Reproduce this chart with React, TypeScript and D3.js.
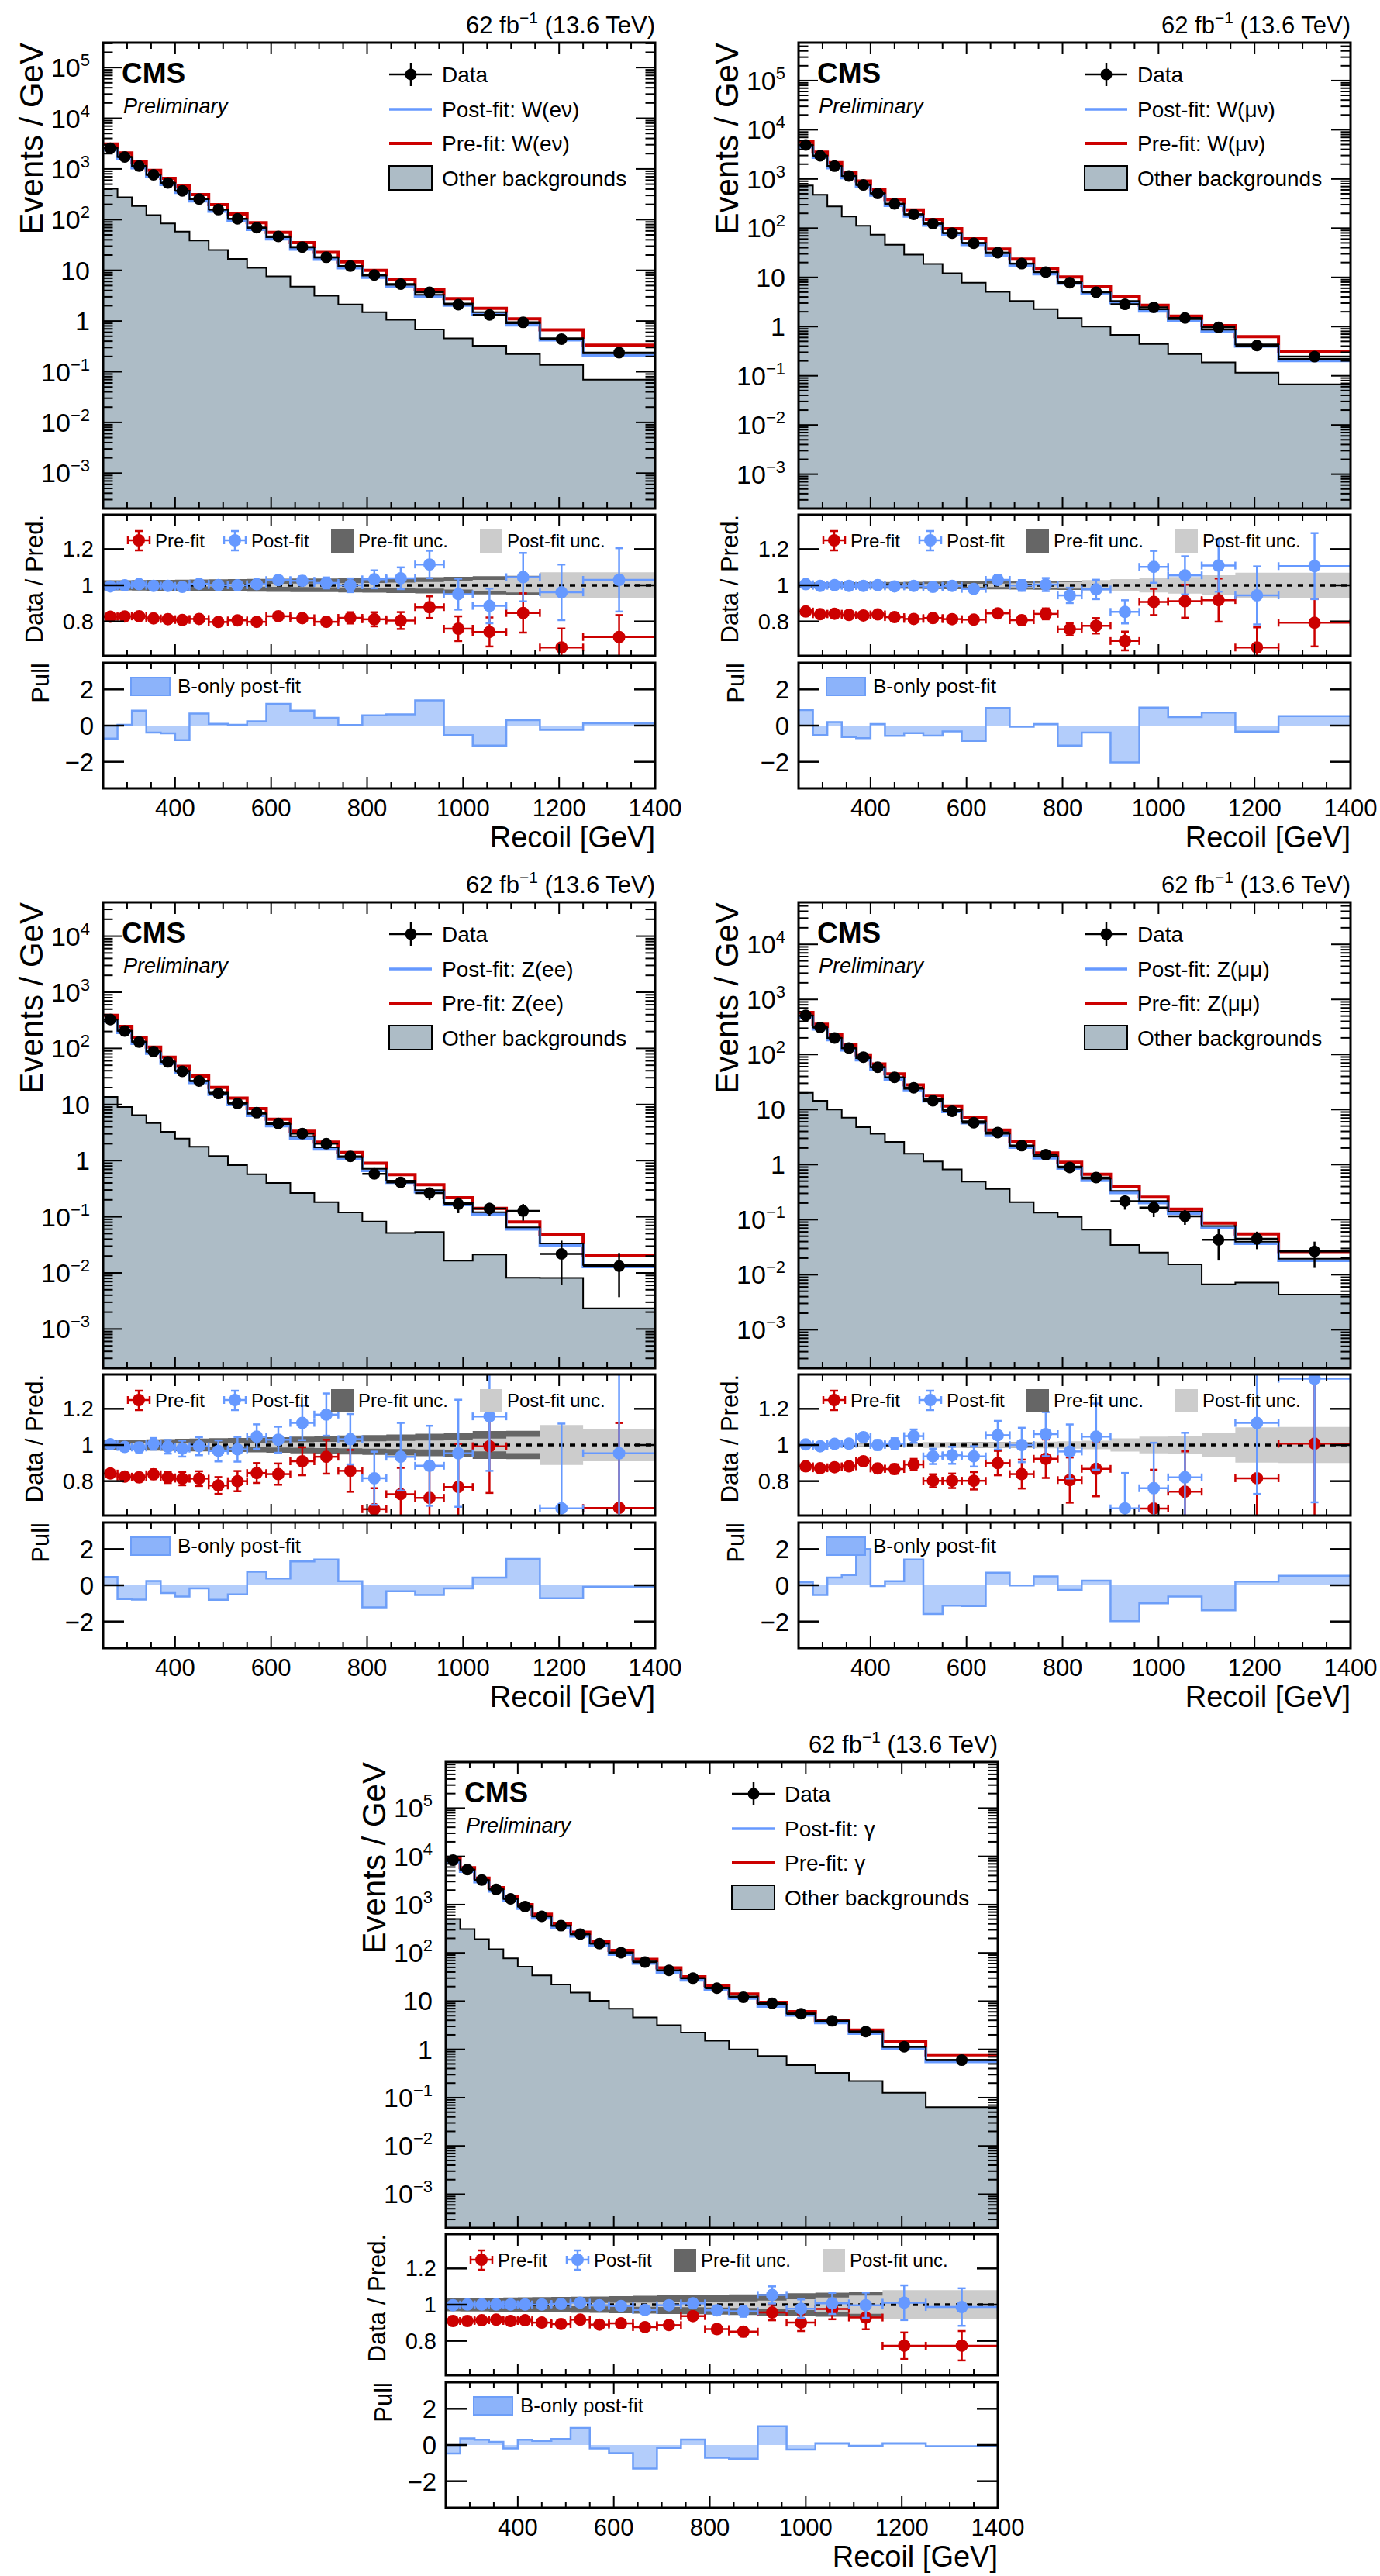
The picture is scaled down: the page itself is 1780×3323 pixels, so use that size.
import React from "react";
import * as d3 from "d3";

// Recoil binning shared by every region
const binEdges = [250, 280, 310, 340, 370, 400, 430, 470, 510, 550, 590, 640, 690, 740, 790, 840, 900, 960, 1020, 1090, 1160, 1250, 1400];

// W(e nu) control region
const wenData = [2560, 1720, 1140, 765, 530, 370, 255, 158, 104, 69.5, 46.5, 28.8, 18.1, 12.1, 8.1, 5.35, 3.68, 2.1, 1.32, 0.94, 0.44, 0.238];
const wenOther = [405, 275, 185, 123, 84, 58, 38.8, 25.2, 16.8, 11.2, 7.6, 4.75, 3.15, 2.12, 1.49, 1.06, 0.68, 0.455, 0.325, 0.222, 0.136, 0.07];
const wenRatioPost = [0.994, 1.0, 1.006, 0.997, 0.997, 0.991, 1.008, 1.001, 1.0, 1.006, 1.029, 1.025, 1.013, 1.0, 1.033, 1.039, 1.115, 0.951, 0.886, 1.045, 0.961, 1.03];
const wenRatioPre = [0.826, 0.828, 0.829, 0.817, 0.813, 0.808, 0.814, 0.797, 0.806, 0.798, 0.829, 0.818, 0.798, 0.82, 0.812, 0.805, 0.879, 0.76, 0.742, 0.847, 0.656, 0.714];
const wenRelErr = [0.004, 0.005, 0.006, 0.007, 0.008, 0.009, 0.011, 0.013, 0.015, 0.017, 0.02, 0.024, 0.03, 0.038, 0.048, 0.058, 0.068, 0.09, 0.108, 0.128, 0.16, 0.17];
const wenPreUnc = [0.028, 0.028, 0.029, 0.03, 0.03, 0.031, 0.032, 0.033, 0.034, 0.035, 0.036, 0.037, 0.038, 0.04, 0.041, 0.043, 0.045, 0.047, 0.05, 0.052, 0.055, 0.06];
const wenPostUnc = [0.004, 0.004, 0.004, 0.005, 0.005, 0.005, 0.006, 0.006, 0.007, 0.008, 0.009, 0.01, 0.011, 0.012, 0.013, 0.015, 0.018, 0.024, 0.03, 0.04, 0.072, 0.072];
const wenPull = [-0.72, 0.04, 0.83, -0.39, -0.43, -0.8, 0.66, 0.1, 0.04, 0.24, 1.2, 0.83, 0.43, 0.03, 0.57, 0.62, 1.39, -0.53, -1.1, 0.3, -0.24, 0.13];

// W(mu nu) control region
const wmnData = [4900, 2960, 1820, 1150, 755, 508, 312, 191, 123, 79.5, 49.5, 31.8, 19, 12.8, 7.75, 5.0, 2.83, 2.46, 1.49, 0.96, 0.41, 0.244];
const wmnOther = [740, 478, 276, 172, 112, 73.5, 46, 29, 18.7, 12.1, 7.75, 5.07, 3.32, 2.27, 1.49, 1.0, 0.676, 0.443, 0.277, 0.187, 0.115, 0.067];
const wmnRatioPost = [1.006, 0.997, 1.001, 0.997, 0.997, 1.001, 0.994, 0.997, 0.991, 0.997, 0.98, 1.03, 0.999, 1.004, 0.944, 0.977, 0.853, 1.102, 1.055, 1.109, 0.944, 1.106];
const wmnRatioPre = [0.855, 0.84, 0.843, 0.836, 0.833, 0.839, 0.824, 0.814, 0.819, 0.813, 0.81, 0.845, 0.807, 0.842, 0.757, 0.776, 0.692, 0.908, 0.912, 0.918, 0.656, 0.793];
const wmnRelErr = [0.003, 0.004, 0.005, 0.006, 0.007, 0.008, 0.01, 0.012, 0.014, 0.016, 0.02, 0.024, 0.03, 0.036, 0.045, 0.055, 0.075, 0.08, 0.1, 0.13, 0.17, 0.165];
const wmnPreUnc = [0.016, 0.016, 0.016, 0.017, 0.017, 0.018, 0.018, 0.019, 0.02, 0.021, 0.022, 0.023, 0.024, 0.025, 0.026, 0.027, 0.028, 0.03, 0.032, 0.034, 0.036, 0.04];
const wmnPostUnc = [0.004, 0.004, 0.004, 0.005, 0.005, 0.005, 0.006, 0.006, 0.007, 0.008, 0.009, 0.01, 0.012, 0.014, 0.018, 0.024, 0.034, 0.04, 0.046, 0.056, 0.07, 0.07];
const wmnPull = [0.86, -0.53, 0.19, -0.63, -0.7, 0.09, -0.57, -0.42, -0.56, -0.32, -0.85, 0.97, -0.06, 0.09, -1.1, -0.39, -2.04, 1.0, 0.47, 0.72, -0.33, 0.52];

// Z(ee) control region
const zeeData = [327, 204, 130, 88, 57.4, 39, 26.2, 15.7, 10.4, 7.15, 4.6, 3.04, 2.01, 1.19, 0.581, 0.411, 0.264, 0.168, 0.14, 0.127, 0.0218, 0.0132];
const zeeOther = [13.7, 9.04, 6.49, 4.66, 3.26, 2.47, 1.77, 1.21, 0.831, 0.573, 0.4, 0.264, 0.182, 0.119, 0.0819, 0.0513, 0.0534, 0.0165, 0.0212, 0.0082, 0.0081, 0.00233];
const zeeRatioPost = [1.004, 0.989, 0.986, 1.006, 0.99, 0.98, 0.993, 0.967, 0.976, 1.046, 1.029, 1.122, 1.168, 1.032, 0.816, 0.935, 0.885, 0.954, 1.158, 1.96, 0.65, 0.954];
const zeeRatioPre = [0.842, 0.825, 0.821, 0.838, 0.821, 0.814, 0.814, 0.776, 0.8, 0.845, 0.839, 0.91, 0.935, 0.857, 0.645, 0.728, 0.708, 0.768, 0.993, 1.57, 0.445, 0.652];
const zeeRelErr = [0.018, 0.022, 0.027, 0.032, 0.038, 0.045, 0.05, 0.06, 0.07, 0.065, 0.07, 0.085, 0.1, 0.135, 0.18, 0.2, 0.25, 0.31, 0.26, 0.33, 0.72, 0.72];
const zeePreUnc = [0.027, 0.028, 0.03, 0.031, 0.032, 0.034, 0.035, 0.037, 0.039, 0.041, 0.043, 0.046, 0.049, 0.052, 0.055, 0.058, 0.062, 0.066, 0.077, 0.078, 0.08, 0.08];
const zeePostUnc = [0.008, 0.008, 0.009, 0.009, 0.01, 0.01, 0.011, 0.011, 0.012, 0.013, 0.014, 0.015, 0.017, 0.018, 0.02, 0.022, 0.025, 0.03, 0.035, 0.045, 0.11, 0.09];
const zeePull = [0.46, -0.76, -0.79, 0.24, -0.43, -0.62, -0.17, -0.8, -0.5, 0.75, 0.37, 1.32, 1.42, 0.23, -1.22, -0.33, -0.54, -0.17, 0.43, 1.46, -0.72, -0.09];

// Z(mu mu) control region
const zmmData = [513, 309, 200, 131, 89.6, 58.7, 38.5, 24.9, 14.4, 9.3, 5.76, 3.83, 2.21, 1.51, 0.887, 0.581, 0.217, 0.166, 0.115, 0.043, 0.0448, 0.0266];
const zmmOther = [20.1, 14.4, 9.98, 7.11, 4.8, 3.62, 2.58, 1.58, 1.14, 0.815, 0.491, 0.36, 0.208, 0.134, 0.112, 0.0656, 0.0348, 0.0252, 0.0154, 0.0067, 0.0072, 0.00434];
const zmmRatioPost = [1.003, 0.993, 1.006, 1.007, 1.043, 1.0, 1.007, 1.049, 0.937, 0.943, 0.937, 1.054, 1.0, 1.06, 0.964, 1.046, 0.65, 0.761, 0.821, 0.561, 1.122, 1.366];
const zmmRatioPre = [0.882, 0.871, 0.877, 0.882, 0.91, 0.87, 0.867, 0.892, 0.802, 0.802, 0.802, 0.9, 0.839, 0.924, 0.806, 0.868, 0.532, 0.649, 0.742, 0.495, 0.816, 1.007];
const zmmRelErr = [0.012, 0.015, 0.018, 0.021, 0.022, 0.027, 0.03, 0.035, 0.045, 0.05, 0.06, 0.075, 0.095, 0.115, 0.155, 0.175, 0.3, 0.33, 0.3, 0.58, 0.35, 0.5];
const zmmPreUnc = [0.012, 0.012, 0.012, 0.012, 0.012, 0.013, 0.013, 0.013, 0.014, 0.014, 0.015, 0.015, 0.016, 0.016, 0.017, 0.018, 0.019, 0.02, 0.021, 0.022, 0.024, 0.026];
const zmmPostUnc = [0.006, 0.006, 0.006, 0.007, 0.007, 0.008, 0.009, 0.01, 0.011, 0.012, 0.013, 0.015, 0.016, 0.018, 0.02, 0.024, 0.036, 0.046, 0.048, 0.069, 0.098, 0.1];
const zmmPull = [0.17, -0.54, 0.43, 0.57, 2.0, -0.04, 0.23, 1.42, -1.58, -1.12, -1.15, 0.7, -0.01, 0.49, -0.26, 0.26, -1.98, -1.0, -0.62, -1.38, 0.2, 0.53];

// photon control region
const gamData = [8340, 5320, 3236, 2065, 1318, 912, 573, 366, 245, 156, 101, 64.6, 43.3, 29.9, 18.5, 12, 9.0, 5.47, 3.91, 2.34, 1.14, 0.598];
const gamOther = [504, 311, 192, 119, 77.1, 51.6, 34, 22.1, 15, 10.2, 6.97, 4.58, 3.17, 2.23, 1.52, 1.0, 0.726, 0.471, 0.326, 0.222, 0.126, 0.0634];
const gamRatioPost = [0.997, 1.001, 1.001, 1.001, 1.001, 1.001, 1.001, 1.004, 1.011, 0.997, 0.993, 0.971, 0.997, 1.007, 0.969, 0.964, 1.054, 0.978, 1.007, 0.997, 1.011, 0.987];
const gamRatioPre = [0.91, 0.91, 0.914, 0.917, 0.91, 0.914, 0.901, 0.893, 0.917, 0.89, 0.897, 0.876, 0.887, 0.937, 0.865, 0.851, 0.957, 0.901, 0.976, 0.929, 0.773, 0.773];
const gamRelErr = [0.003, 0.004, 0.005, 0.006, 0.007, 0.008, 0.009, 0.01, 0.012, 0.014, 0.016, 0.018, 0.02, 0.023, 0.027, 0.032, 0.045, 0.052, 0.058, 0.07, 0.095, 0.105];
const gamPreUnc = [0.036, 0.037, 0.038, 0.039, 0.04, 0.041, 0.042, 0.043, 0.044, 0.045, 0.047, 0.049, 0.051, 0.053, 0.055, 0.057, 0.06, 0.063, 0.066, 0.07, 0.072, 0.074];
const gamPostUnc = [0.006, 0.006, 0.006, 0.007, 0.007, 0.007, 0.008, 0.008, 0.009, 0.01, 0.011, 0.012, 0.013, 0.014, 0.016, 0.018, 0.022, 0.03, 0.04, 0.05, 0.08, 0.08];
const gamPull = [-0.47, 0.36, 0.29, 0.17, -0.19, 0.29, 0.22, 0.33, 0.94, -0.19, -0.45, -1.31, -0.16, 0.3, -0.71, -0.76, 1.04, -0.26, 0.1, -0.04, 0.1, -0.07];

const xTicksMajor = [400, 600, 800, 1000, 1200, 1400];
const ratioTicks = [0.8, 1, 1.2];
const ratioTickLabels = ["0.8", "1", "1.2"];
const pullTicks = [-2, 0, 2];
const pullTickLabels = ["\u22122", "0", "2"];

const FONT = "'Liberation Sans', Arial, Helvetica, sans-serif";
const FL = 133;
const FR = 845;
const MAIN_T = 55;
const MAIN_B = 656;
const RAT_T = 664;
const RAT_B = 846;
const PULL_T = 855;
const PULL_B = 1017;
const Y_MIN = 2e-4;

const RED = "#cc0000";
const BLUE = "#6699ff";
const OTHER_FILL = "#adbcc6";
const PRE_UNC = "#666666";
const POST_UNC = "#cccccc";
const PULL_FILL = "#b3cdfb";
const PULL_LINE = "#6d9ef8";
const PULL_LEG = "#8cb3fa";

interface Region {
    id: string;
    ox: number;
    oy: number;
    proc: string;
    yMax: number;
    data: number[];
    other: number[];
    ratioPost: number[];
    ratioPre: number[];
    relErr: number[];
    preUnc: number[];
    postUnc: number[];
    pull: number[];
}

const regions: Region[] = [
    { id: "wen", ox: 0, oy: 0, proc: "W(e\u03bd)", yMax: 3.1e5, data: wenData, other: wenOther, ratioPost: wenRatioPost, ratioPre: wenRatioPre, relErr: wenRelErr, preUnc: wenPreUnc, postUnc: wenPostUnc, pull: wenPull },
    { id: "wmn", ox: 897, oy: 0, proc: "W(\u03bc\u03bd)", yMax: 5.9e5, data: wmnData, other: wmnOther, ratioPost: wmnRatioPost, ratioPre: wmnRatioPre, relErr: wmnRelErr, preUnc: wmnPreUnc, postUnc: wmnPostUnc, pull: wmnPull },
    { id: "zee", ox: 0, oy: 1109, proc: "Z(ee)", yMax: 4.0e4, data: zeeData, other: zeeOther, ratioPost: zeeRatioPost, ratioPre: zeeRatioPre, relErr: zeeRelErr, preUnc: zeePreUnc, postUnc: zeePostUnc, pull: zeePull },
    { id: "zmm", ox: 897, oy: 1109, proc: "Z(\u03bc\u03bc)", yMax: 5.8e4, data: zmmData, other: zmmOther, ratioPost: zmmRatioPost, ratioPre: zmmRatioPre, relErr: zmmRelErr, preUnc: zmmPreUnc, postUnc: zmmPostUnc, pull: zmmPull },
    { id: "gam", ox: 442, oy: 2218, proc: "\u03b3", yMax: 9.0e5, data: gamData, other: gamOther, ratioPost: gamRatioPost, ratioPre: gamRatioPre, relErr: gamRelErr, preUnc: gamPreUnc, postUnc: gamPostUnc, pull: gamPull },
];

type Pt = [number, number];

const stepPts = (vals: number[]): Pt[] =>
    vals.flatMap((v, i) => [[binEdges[i], v], [binEdges[i + 1], v]] as Pt[]);

function ErrPoint(props: { x0: number; x1: number; xc: number; y: number; yLo: number; yHi: number; color: string; r: number }) {
    const { x0, x1, xc, y, yLo, yHi, color, r } = props;
    const cap = 5;
    return <g stroke={color} strokeWidth={2.5}>
        <line x1={x0} x2={x1} y1={y} y2={y} />
        <line x1={x0} x2={x0} y1={y - cap} y2={y + cap} />
        <line x1={x1} x2={x1} y1={y - cap} y2={y + cap} />
        <line x1={xc} x2={xc} y1={yLo} y2={yHi} />
        <line x1={xc - cap} x2={xc + cap} y1={yLo} y2={yLo} />
        <line x1={xc - cap} x2={xc + cap} y1={yHi} y2={yHi} />
        <circle cx={xc} cy={y} r={r} fill={color} stroke="none" />
    </g>;
}

function XTicks(props: { x: d3.ScaleLinear<number, number>; top: number; bottom: number }) {
    const { x, top, bottom } = props;
    const minors = d3.range(300, 1400, 50).filter(v => !xTicksMajor.includes(v));
    return <g stroke="black" strokeWidth={2}>
        {xTicksMajor.map(v => <g key={"M" + v}>
            <line x1={x(v)} x2={x(v)} y1={bottom} y2={bottom - 15} />
            <line x1={x(v)} x2={x(v)} y1={top} y2={top + 15} />
        </g>)}
        {minors.map(v => <g key={"m" + v}>
            <line x1={x(v)} x2={x(v)} y1={bottom} y2={bottom - 8} />
            <line x1={x(v)} x2={x(v)} y1={top} y2={top + 8} />
        </g>)}
    </g>;
}

function Panel({ r }: { r: Region }) {
    const x = d3.scaleLinear().domain([250, 1400]).range([FL, FR]);
    const yMain = d3.scaleLog().domain([Y_MIN, r.yMax]).range([MAIN_B, MAIN_T]);
    const yRat = d3.scaleLinear().domain([0.61, 1.39]).range([RAT_B, RAT_T]);
    const yPull = d3.scaleLinear().domain([-3.47, 3.47]).range([PULL_B, PULL_T]);

    const bins = binEdges.slice(0, -1).map((lo, i) => ({ lo, hi: binEdges[i + 1], c: (lo + binEdges[i + 1]) / 2 }));
    const postTot = r.data.map((d, i) => d / r.ratioPost[i]);
    const preTot = r.data.map((d, i) => d / r.ratioPre[i]);

    const mainLine = d3.line<Pt>().x(d => x(d[0])).y(d => yMain(d[1]));
    const otherArea = d3.area<Pt>().x(d => x(d[0])).y0(MAIN_B).y1(d => yMain(d[1]));
    const bandArea = (unc: number[]) => d3.area<Pt>()
        .x(d => x(d[0]))
        .y0(d => yRat(1 - unc[Math.min(d[1], unc.length - 1)]))
        .y1(d => yRat(1 + unc[Math.min(d[1], unc.length - 1)]))(
            bins.flatMap((b, i) => [[b.lo, i], [b.hi, i]] as Pt[]));
    const pullArea = d3.area<Pt>().x(d => x(d[0])).y0(yPull(0)).y1(d => yPull(d[1]));
    const pullLine = d3.line<Pt>().x(d => x(d[0])).y(d => yPull(d[1]));

    const decades = d3.range(-4, 7).filter(k => Math.pow(10, k) >= Y_MIN && Math.pow(10, k) <= r.yMax);
    const minorsY = d3.range(-4, 7).flatMap(k => d3.range(2, 10).map(j => j * Math.pow(10, k)))
        .filter(v => v > Y_MIN && v < r.yMax);

    const inRat = (v: number) => v >= 0.61 && v <= 1.39;

    return <g transform={`translate(${r.ox},${r.oy})`} fontFamily={FONT}>
        <defs>
            <clipPath id={`cm-${r.id}`}><rect x={FL} y={MAIN_T} width={FR - FL} height={MAIN_B - MAIN_T} /></clipPath>
            <clipPath id={`cr-${r.id}`}><rect x={FL} y={RAT_T} width={FR - FL} height={RAT_B - RAT_T} /></clipPath>
            <clipPath id={`cp-${r.id}`}><rect x={FL} y={PULL_T} width={FR - FL} height={PULL_B - PULL_T} /></clipPath>
        </defs>

        <text x={FR} y={43} textAnchor="end" fontSize={31}>
            62 fb<tspan dy={-13} fontSize={21}>{"\u22121"}</tspan><tspan dy={13} fontSize={31}>{"\u00a0(13.6 TeV)"}</tspan>
        </text>

        {/* main panel */}
        <g clipPath={`url(#cm-${r.id})`}>
            <path d={otherArea(stepPts(r.other)) ?? ""} fill={OTHER_FILL} />
            <path d={mainLine(stepPts(r.other)) ?? ""} fill="none" stroke="black" strokeWidth={2} />
            <path d={mainLine(stepPts(preTot)) ?? ""} fill="none" stroke={RED} strokeWidth={4} />
            <path d={mainLine(stepPts(postTot)) ?? ""} fill="none" stroke={BLUE} strokeWidth={3.5} transform="translate(0,2.5)" />
            <path d={mainLine(stepPts(postTot)) ?? ""} fill="none" stroke="black" strokeWidth={2} />
            {bins.map((b, i) => {
                const d = r.data[i];
                const lo = Math.max(d * (1 - r.relErr[i]), Y_MIN);
                const hi = d * (1 + r.relErr[i]);
                return <g key={i} stroke="black" strokeWidth={2.5}>
                    <line x1={x(b.lo)} x2={x(b.hi)} y1={yMain(d)} y2={yMain(d)} />
                    <line x1={x(b.c)} x2={x(b.c)} y1={yMain(lo)} y2={yMain(hi)} />
                    <circle cx={x(b.c)} cy={yMain(d)} r={7.5} fill="black" stroke="none" />
                </g>;
            })}
        </g>
        <XTicks x={x} top={MAIN_T} bottom={MAIN_B} />
        <g stroke="black" strokeWidth={2}>
            {decades.map(k => <g key={"d" + k}>
                <line x1={FL} x2={FL + 25} y1={yMain(Math.pow(10, k))} y2={yMain(Math.pow(10, k))} />
                <line x1={FR} x2={FR - 25} y1={yMain(Math.pow(10, k))} y2={yMain(Math.pow(10, k))} />
            </g>)}
            {minorsY.map((v, i) => <g key={"n" + i}>
                <line x1={FL} x2={FL + 12.5} y1={yMain(v)} y2={yMain(v)} />
                <line x1={FR} x2={FR - 12.5} y1={yMain(v)} y2={yMain(v)} />
            </g>)}
        </g>
        {decades.map(k => <text key={"t" + k} x={116} y={yMain(Math.pow(10, k)) + 12} textAnchor="end" fontSize={34}>
            {k === 0 ? "1" : k === 1 ? "10" : <>10<tspan dy={-14} fontSize={22}>{k < 0 ? "\u2212" + (-k) : String(k)}</tspan></>}
        </text>)}
        <rect x={FL} y={MAIN_T} width={FR - FL} height={MAIN_B - MAIN_T} fill="none" stroke="black" strokeWidth={3} />
        <text transform={`translate(55,${MAIN_T}) rotate(-90)`} textAnchor="end" fontSize={42}>Events / GeV</text>

        <text x={157} y={107} fontSize={37} fontWeight="bold">CMS</text>
        <text x={159} y={146} fontSize={27} fontStyle="italic">Preliminary</text>

        {/* main legend */}
        <g fontSize={28}>
            <line x1={502} x2={557} y1={96} y2={96} stroke="black" strokeWidth={2.5} />
            <line x1={530} x2={530} y1={81} y2={111} stroke="black" strokeWidth={2.5} />
            <circle cx={530} cy={96} r={7.5} fill="black" />
            <text x={570} y={96} dominantBaseline="central">Data</text>
            <line x1={502} x2={557} y1={141} y2={141} stroke={BLUE} strokeWidth={3.5} />
            <text x={570} y={141} dominantBaseline="central">{"Post-fit: " + r.proc}</text>
            <line x1={502} x2={557} y1={185} y2={185} stroke={RED} strokeWidth={4} />
            <text x={570} y={185} dominantBaseline="central">{"Pre-fit: " + r.proc}</text>
            <rect x={502} y={214} width={55} height={31} fill={OTHER_FILL} stroke="black" strokeWidth={2} />
            <text x={570} y={230} dominantBaseline="central">Other backgrounds</text>
        </g>

        {/* ratio panel */}
        <g clipPath={`url(#cr-${r.id})`}>
            <path d={bandArea(r.preUnc) ?? ""} fill={PRE_UNC} />
            <path d={bandArea(r.postUnc) ?? ""} fill={POST_UNC} />
            <line x1={FL} x2={FR} y1={yRat(1)} y2={yRat(1)} stroke="black" strokeWidth={3.5} strokeDasharray="7 7" />
            {bins.map((b, i) => inRat(r.ratioPre[i]) ? <ErrPoint key={"p" + i} x0={x(b.lo)} x1={x(b.hi)} xc={x(b.c)}
                y={yRat(r.ratioPre[i])} yLo={yRat(r.ratioPre[i] * (1 - r.relErr[i]))} yHi={yRat(r.ratioPre[i] * (1 + r.relErr[i]))}
                color={RED} r={8} /> : null)}
            {bins.map((b, i) => inRat(r.ratioPost[i]) ? <ErrPoint key={"q" + i} x0={x(b.lo)} x1={x(b.hi)} xc={x(b.c)}
                y={yRat(r.ratioPost[i])} yLo={yRat(r.ratioPost[i] * (1 - r.relErr[i]))} yHi={yRat(r.ratioPost[i] * (1 + r.relErr[i]))}
                color={BLUE} r={8} /> : null)}
        </g>
        <XTicks x={x} top={RAT_T} bottom={RAT_B} />
        <g stroke="black" strokeWidth={2.5}>
            {ratioTicks.map(v => <g key={v}>
                <line x1={FL} x2={FL + 27} y1={yRat(v)} y2={yRat(v)} />
                <line x1={FR} x2={FR - 27} y1={yRat(v)} y2={yRat(v)} />
            </g>)}
        </g>
        {ratioTicks.map((v, i) => <text key={v} x={121} y={yRat(v) + 10} textAnchor="end" fontSize={29}>{ratioTickLabels[i]}</text>)}
        <rect x={FL} y={RAT_T} width={FR - FL} height={RAT_B - RAT_T} fill="none" stroke="black" strokeWidth={3} />
        <text transform={`translate(55,${RAT_T}) rotate(-90)`} textAnchor="end" fontSize={31}>Data / Pred.</text>

        <g fontSize={24}>
            <ErrPoint x0={165} x1={193} xc={179} y={697} yLo={685} yHi={710} color={RED} r={8} />
            <text x={200} y={697} dominantBaseline="central">Pre-fit</text>
            <ErrPoint x0={289} x1={317} xc={303} y={697} yLo={685} yHi={710} color={BLUE} r={8} />
            <text x={324} y={697} dominantBaseline="central">Post-fit</text>
            <rect x={427} y={683} width={29} height={30} fill={PRE_UNC} />
            <text x={462} y={697} dominantBaseline="central">Pre-fit unc.</text>
            <rect x={619} y={683} width={29} height={30} fill={POST_UNC} />
            <text x={654} y={697} dominantBaseline="central">Post-fit unc.</text>
        </g>

        {/* pull panel */}
        <g clipPath={`url(#cp-${r.id})`}>
            <path d={pullArea(stepPts(r.pull)) ?? ""} fill={PULL_FILL} />
            <path d={pullLine(stepPts(r.pull)) ?? ""} fill="none" stroke={PULL_LINE} strokeWidth={2.5} />
        </g>
        <XTicks x={x} top={PULL_T} bottom={PULL_B} />
        <g stroke="black" strokeWidth={2.5}>
            {pullTicks.map(v => <g key={v}>
                <line x1={FL} x2={FL + 27} y1={yPull(v)} y2={yPull(v)} />
                <line x1={FR} x2={FR - 27} y1={yPull(v)} y2={yPull(v)} />
            </g>)}
        </g>
        {pullTicks.map((v, i) => <text key={v} x={121} y={yPull(v) + 12} textAnchor="end" fontSize={33}>{pullTickLabels[i]}</text>)}
        <rect x={FL} y={PULL_T} width={FR - FL} height={PULL_B - PULL_T} fill="none" stroke="black" strokeWidth={3} />
        <text transform={`translate(63,${PULL_T}) rotate(-90)`} textAnchor="end" fontSize={31}>Pull</text>
        <rect x={169} y={874} width={50} height={23} fill={PULL_LEG} stroke={PULL_LINE} strokeWidth={2} />
        <text x={229} y={885} dominantBaseline="central" fontSize={26}>B-only post-fit</text>

        {xTicksMajor.map(v => <text key={v} x={x(v)} y={1053} textAnchor="middle" fontSize={31}>{v}</text>)}
        <text x={FR} y={1093} textAnchor="end" fontSize={38}>Recoil [GeV]</text>
    </g>;
}

export default function App() {
    return <svg width={1780} height={3323} style={{ position: "absolute", left: 0, top: 0, background: "white" }}>
        <rect width={1780} height={3323} fill="white" />
        {regions.map(r => <Panel key={r.id} r={r} />)}
    </svg>;
}
